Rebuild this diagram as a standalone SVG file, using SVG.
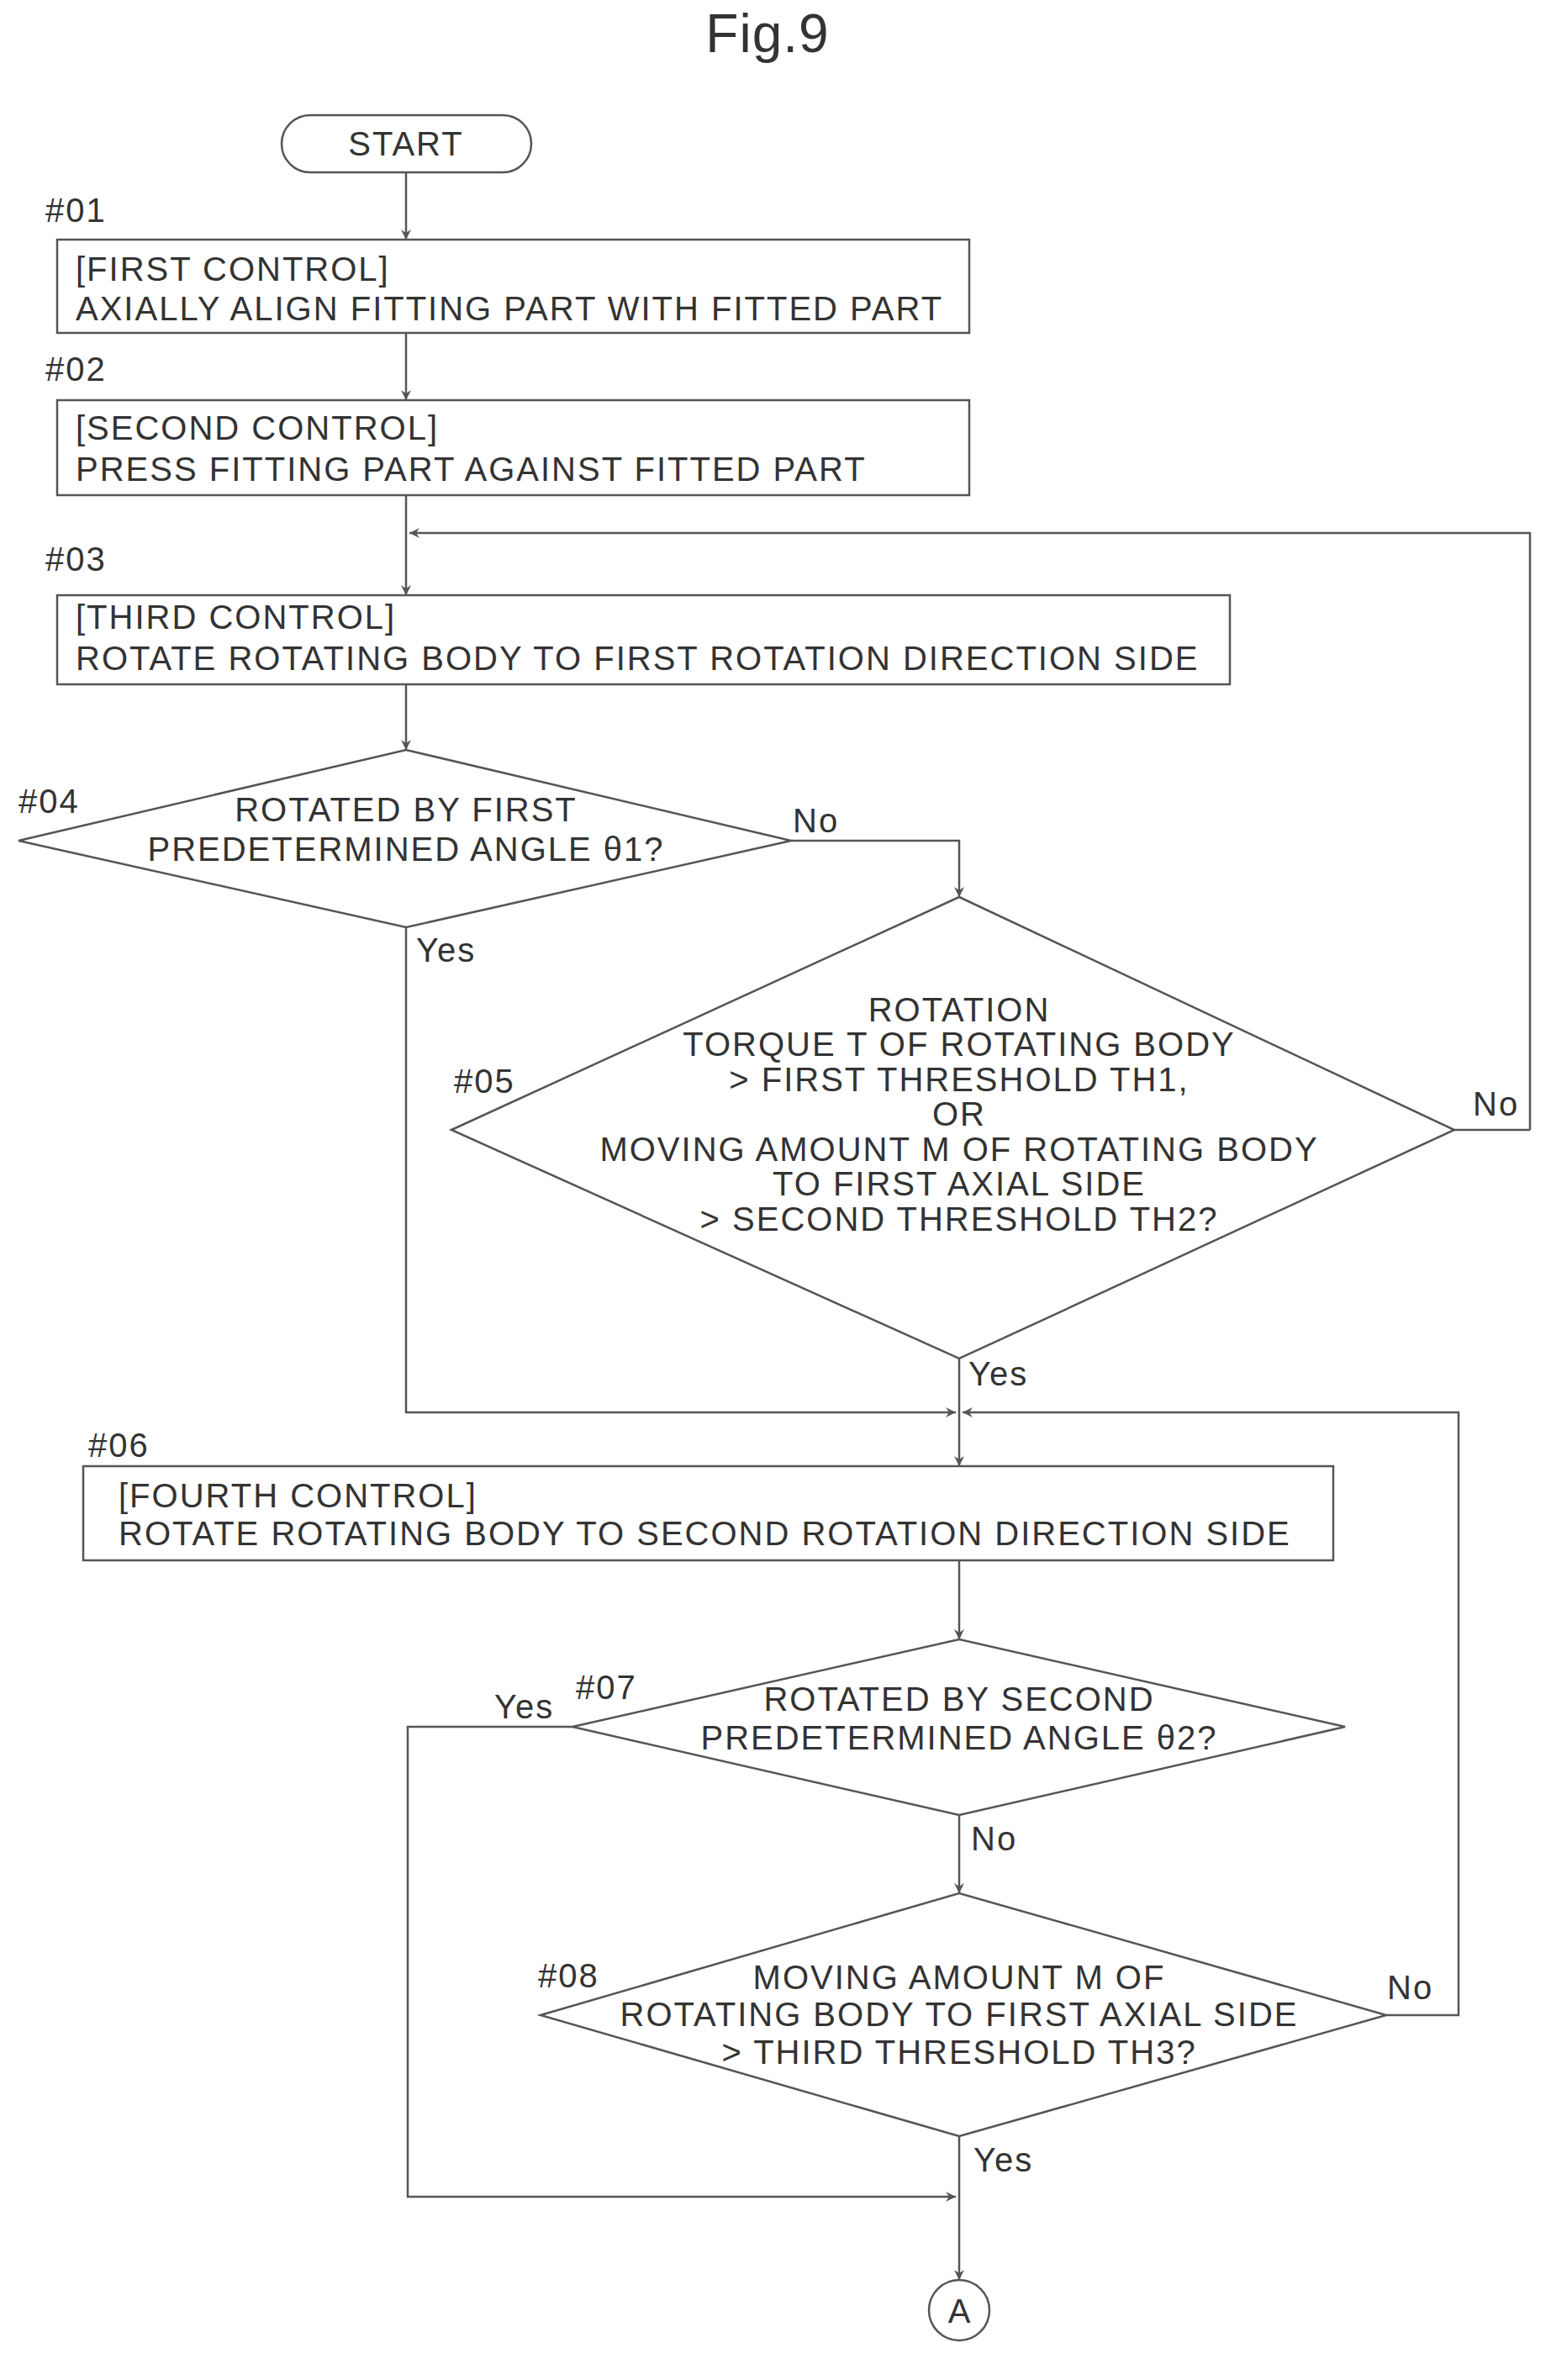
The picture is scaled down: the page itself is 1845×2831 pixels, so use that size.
<svg xmlns="http://www.w3.org/2000/svg" width="1845" height="2831" viewBox="0 0 1845 2831">
<style>
text{font-family:"Liberation Sans",Arial,sans-serif;font-size:40px;letter-spacing:2px;fill:#333}
.c{text-anchor:middle}
.s{fill:#fff;stroke:#555;stroke-width:2.5}
.l{fill:none;stroke:#555;stroke-width:2.5;marker-end:url(#a)}
.n{fill:none;stroke:#555;stroke-width:2.5}
</style>
<defs><marker id="a" markerWidth="14" markerHeight="14" refX="12" refY="6" orient="auto" markerUnits="userSpaceOnUse"><path d="M0,0 L12,6 L0,12 L4,6 Z" fill="#555"/></marker></defs>
<rect width="1845" height="2831" fill="#fff"/>
<text x="913" y="62" class="c" style="font-size:64px;letter-spacing:1px">Fig.9</text>
<g id="connectors">
<path class="l" d="M483,205 V285"/>
<path class="l" d="M483,396 V476"/>
<path class="l" d="M483,589 V708"/>
<path class="l" d="M1820,1344 V634 H487"/>
<path class="l" d="M483,814 V892"/>
<path class="l" d="M941,1000 H1141 V1067"/>
<path class="l" d="M483,1103 V1680 H1137"/>
<path class="l" d="M1141,1616 V1744"/>
<path class="n" d="M1730,1344 H1820"/>
<path class="l" d="M1649,2397 H1735 V1680 H1145"/>
<path class="l" d="M1141,1856 V1950"/>
<path class="l" d="M681,2054 H485 V2613 H1137"/>
<path class="l" d="M1141,2159 V2252"/>
<path class="l" d="M1141,2541 V2712"/>
</g>
<g id="start"><rect class="s" x="335" y="137" width="297" height="68" rx="34"/><text x="483" y="185" class="c">START</text></g>
<g id="n01"><text x="54" y="264">#01</text><rect class="s" x="68" y="285" width="1085" height="111"/><text x="90" y="334">[FIRST CONTROL]</text><text x="90" y="381">AXIALLY ALIGN FITTING PART WITH FITTED PART</text></g>
<g id="n02"><text x="54" y="453">#02</text><rect class="s" x="68" y="476" width="1085" height="113"/><text x="90" y="523">[SECOND CONTROL]</text><text x="90" y="572">PRESS FITTING PART AGAINST FITTED PART</text></g>
<g id="n03"><text x="54" y="679">#03</text><rect class="s" x="68" y="708" width="1395" height="106"/><text x="90" y="748">[THIRD CONTROL]</text><text x="90" y="797">ROTATE ROTATING BODY TO FIRST ROTATION DIRECTION SIDE</text></g>
<g id="n04"><text x="22" y="967">#04</text><polygon class="s" points="22,1000 483,892 941,1000 483,1103"/><text x="483" y="977" class="c">ROTATED BY FIRST</text><text x="483" y="1024" class="c">PREDETERMINED ANGLE θ1?</text><text x="943" y="990">No</text><text x="495" y="1144">Yes</text></g>
<g id="n05"><text x="540" y="1300">#05</text><polygon class="s" points="537,1344 1141,1067 1730,1344 1141,1616"/>
<text x="1141" y="1215" class="c">ROTATION</text><text x="1141" y="1256" class="c">TORQUE T OF ROTATING BODY</text><text x="1141" y="1298" class="c">&gt; FIRST THRESHOLD TH1,</text><text x="1141" y="1339" class="c">OR</text><text x="1141" y="1381" class="c">MOVING AMOUNT M OF ROTATING BODY</text><text x="1141" y="1422" class="c">TO FIRST AXIAL SIDE</text><text x="1141" y="1464" class="c">&gt; SECOND THRESHOLD TH2?</text>
<text x="1752" y="1327">No</text><text x="1152" y="1648">Yes</text></g>
<g id="n06"><text x="105" y="1733">#06</text><rect class="s" x="99" y="1744" width="1487" height="112"/><text x="141" y="1793">[FOURTH CONTROL]</text><text x="141" y="1838">ROTATE ROTATING BODY TO SECOND ROTATION DIRECTION SIDE</text></g>
<g id="n07"><polygon class="s" points="681,2054 1141,1950 1600,2054 1141,2159"/><text x="685" y="2021">#07</text><text x="1141" y="2035" class="c">ROTATED BY SECOND</text><text x="1141" y="2081" class="c">PREDETERMINED ANGLE θ2?</text><text x="588" y="2044">Yes</text><text x="1155" y="2201">No</text></g>
<g id="n08"><text x="640" y="2364">#08</text><polygon class="s" points="643,2397 1141,2252 1649,2397 1141,2541"/><text x="1141" y="2366" class="c">MOVING AMOUNT M OF</text><text x="1141" y="2410" class="c">ROTATING BODY TO FIRST AXIAL SIDE</text><text x="1141" y="2455" class="c">&gt; THIRD THRESHOLD TH3?</text><text x="1650" y="2378">No</text><text x="1158" y="2583">Yes</text></g>
<g id="A"><circle class="s" cx="1141" cy="2748" r="36"/><text x="1141" y="2763" class="c" style="letter-spacing:0">A</text></g>
</svg>
